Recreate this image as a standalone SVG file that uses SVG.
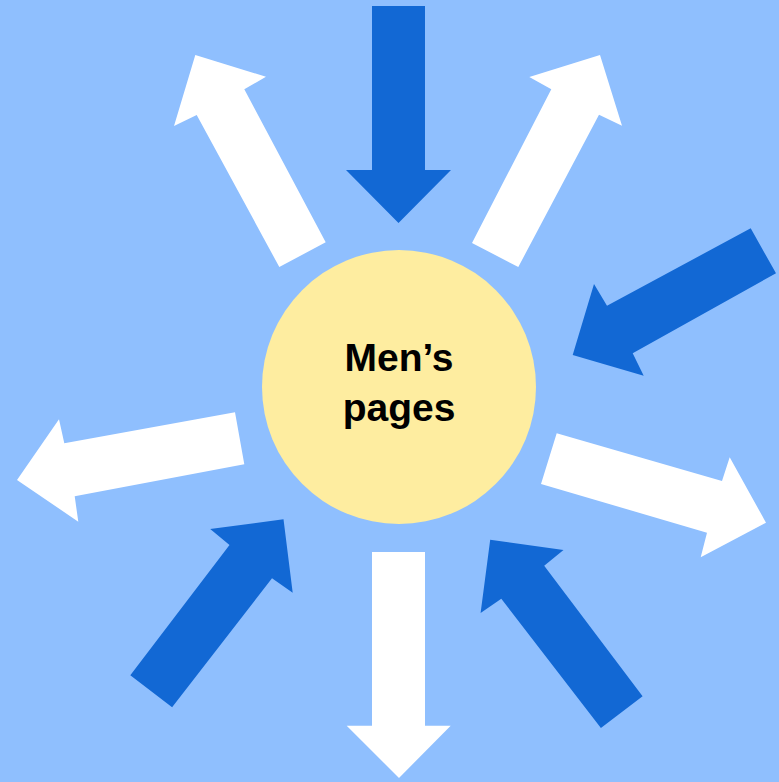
<svg xmlns="http://www.w3.org/2000/svg" width="779" height="782" viewBox="0 0 779 782">
<style>
.bg{fill:#8fbffe}
.in{fill:#1268d4}
.out{fill:#ffffff}
.hub{fill:#feeda0}
.lbl{font-family:"Liberation Sans","Noto Sans",Arial,sans-serif;font-weight:700;font-size:39px;fill:#000;text-anchor:middle}
</style>
<rect class="bg" x="0" y="0" width="779" height="782"/>
<g id="connectors">
<polygon id="arrow-top-in" class="in" points="372,6 425,6 425,170 451,170 398.5,223 346,170 372,170"/>
<polygon id="arrow-upleft-out" class="out" points="195.3,55 266,76.7 244.3,89.3 325.7,242.3 279.3,267 196.7,115 174,126"/>
<polygon id="arrow-upright-out" class="out" points="600,55 622,125.7 599,114.7 518.3,267 472,243 551.3,89.3 529.3,77"/>
<polygon id="arrow-right-in" class="in" points="750.7,228.3 776,273.3 632.7,353.3 643.7,375.7 572.7,355 594,284 607,305.7"/>
<polygon id="arrow-left-out" class="out" points="17,480 59,419.3 64.3,443.3 235,412.3 244.3,464.3 74.7,496.3 78.3,521.7"/>
<polygon id="arrow-right-out" class="out" points="556.7,433.3 722,481 729.7,457.3 766,522.7 700.7,557.3 707,532.7 541,484"/>
<polygon id="arrow-lowleft-in" class="in" points="130.3,675.3 229.5,545 210.2,529 283.5,519.3 292.7,592.7 272,578.3 172.1,707.3"/>
<polygon id="arrow-bottom-out" class="out" points="372,552 425,552 425,725.7 450.7,725.7 399,778 346.7,725.7 372,725.7"/>
<polygon id="arrow-lowright-in" class="in" points="642.6,696.3 544.2,565.7 563.5,550 490.2,539.7 480.6,613 501.3,598.7 600.9,728"/>
</g>
<g id="node-mens-pages">
<circle class="hub" cx="399" cy="387" r="137"/>
<text class="lbl" x="399" y="371">Men’s</text>
<text class="lbl" x="399" y="421">pages</text>
</g>
</svg>
